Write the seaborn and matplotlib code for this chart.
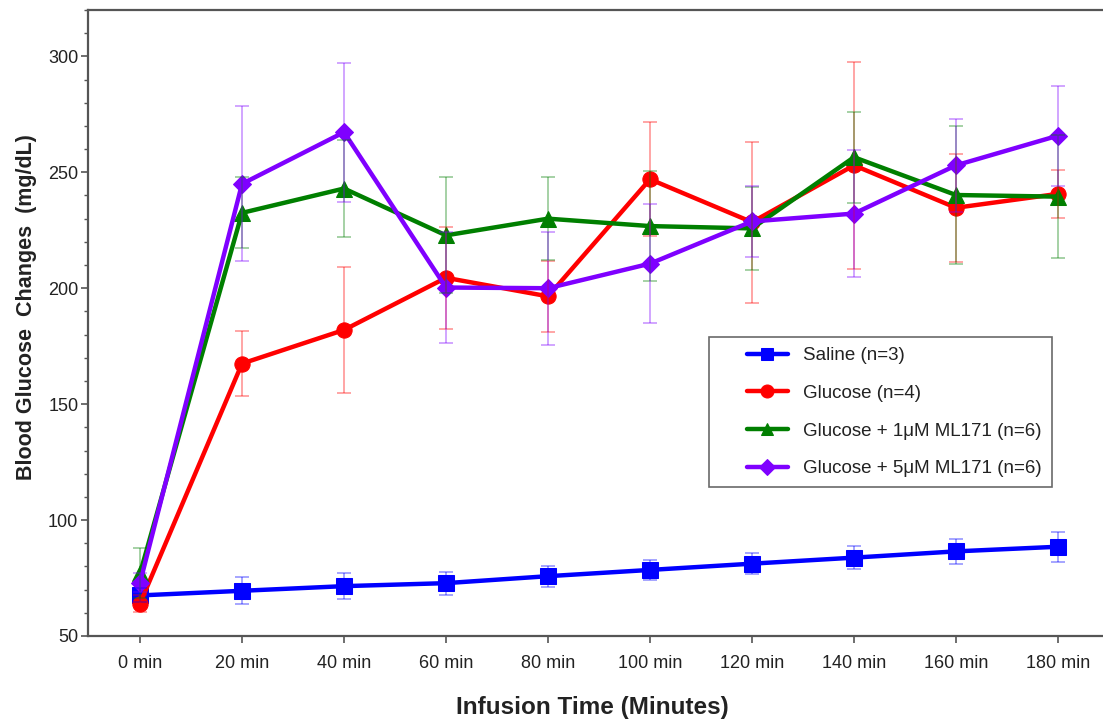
import numpy as np
import pandas as pd
import matplotlib
matplotlib.use("Agg")
import matplotlib.pyplot as plt
import seaborn as sns
from matplotlib.ticker import MultipleLocator
from matplotlib.legend_handler import HandlerLine2D
from matplotlib.lines import Line2D

# Infusion time points (minutes) and their tick labels
times = [0, 20, 40, 60, 80, 100, 120, 140, 160, 180]
time_labels = [f"{t} min" for t in times]

groups = ["Saline (n=3)", "Glucose (n=4)",
          "Glucose + 1μM ML171 (n=6)", "Glucose + 5μM ML171 (n=6)"]

# Mean blood glucose (mg/dL) per group
saline_mean = [67.5, 69.5, 71.5, 72.8, 75.8, 78.5, 81.2, 83.8, 86.5, 88.5]
glucose_mean = [64.0, 167.5, 182.0, 204.5, 196.5, 247.0, 228.5, 253.0, 234.7, 240.7]
ml1_mean = [77.0, 232.5, 243.0, 222.8, 230.0, 226.8, 225.8, 256.5, 240.2, 239.5]
ml5_mean = [73.0, 245.0, 267.3, 200.3, 200.0, 210.6, 228.8, 232.2, 253.0, 265.8]

# Error (± mg/dL) per group
saline_err = [3.0, 5.8, 5.5, 5.0, 4.5, 4.4, 4.5, 4.9, 5.5, 6.5]
glucose_err = [3.5, 14.2, 27.0, 22.0, 15.2, 24.5, 34.7, 44.5, 23.4, 10.5]
ml1_err = [10.8, 15.3, 20.8, 25.0, 18.0, 23.6, 18.0, 19.6, 29.6, 26.6]
ml5_err = [4.0, 33.4, 30.0, 24.0, 24.3, 25.8, 15.2, 27.3, 20.0, 21.6]

means = [saline_mean, glucose_mean, ml1_mean, ml5_mean]
errs = [saline_err, glucose_err, ml1_err, ml5_err]

colors = ["#0000FF", "#FF0000", "#007F00", "#7F00FF"]
marker_shapes = ["s", "o", "^", "D"]
marker_sizes = [11, 11, 11, 9]

df = pd.DataFrame({
    "time": np.tile(times, len(groups)),
    "glucose": np.concatenate(means),
    "group": np.repeat(groups, len(times)),
})

sns.set_style("ticks")
plt.rcParams["font.family"] = ["Liberation Sans", "DejaVu Sans"]

fig = plt.figure(figsize=(11.03, 7.19), dpi=100)
ax = fig.add_axes([88 / 1103, 83 / 719, 1022 / 1103, 626 / 719])

for i, g in enumerate(groups):
    sub = df[df["group"] == g]
    sns.lineplot(data=sub, x="time", y="glucose", ax=ax, color=colors[i],
                 marker=marker_shapes[i], markersize=marker_sizes[i],
                 markeredgecolor=colors[i], linewidth=3.2, label=g,
                 zorder=3 + i)
    ax.errorbar(times, means[i], yerr=errs[i], fmt="none", ecolor=colors[i],
                elinewidth=1.1, capsize=5, capthick=1.1, alpha=0.45,
                zorder=8)

ax.set_xlim(-10.2, 190.2)
ax.set_ylim(50, 320)
ax.set_xticks(times)
ax.set_xticklabels(time_labels)
ax.yaxis.set_major_locator(MultipleLocator(50))
ax.yaxis.set_minor_locator(MultipleLocator(10))
ax.set_yticks([50, 100, 150, 200, 250, 300])

edge = "#555555"
for side in ["left", "bottom", "top", "right"]:
    ax.spines[side].set_color(edge)
    ax.spines[side].set_linewidth(1.6)

ax.tick_params(axis="both", which="major", direction="out", length=5,
               width=1.2, color=edge, labelsize=13, labelcolor="#222222")
ax.tick_params(axis="x", which="major", pad=9)
ax.tick_params(axis="y", which="major", pad=2)
ax.tick_params(axis="y", which="minor", direction="out", length=3,
               width=1.0, color=edge)

ax.set_xlabel("Infusion Time (Minutes)", fontsize=17.5, fontweight="bold",
              color="#222222")
ax.set_ylabel("Blood Glucose  Changes  (mg/dL)", fontsize=15.5,
              fontweight="bold", color="#222222")
ax.xaxis.set_label_coords(0.4937, -0.096)
ax.yaxis.set_label_coords(-0.05, 0.5256)

handles, labels = ax.get_legend_handles_labels()
handler_map = {Line2D: HandlerLine2D(xpad=1.48)}
leg = ax.legend(handles, labels, loc="upper left",
                bbox_to_anchor=(0.6076, 0.4776), fontsize=13.5,
                frameon=True, fancybox=False, edgecolor="#444444",
                handlelength=3.66, borderpad=0.55, labelspacing=1.09,
                handletextpad=0.8, borderaxespad=0, handler_map=handler_map,
                markerscale=0.85)
leg.get_frame().set_linewidth(1.2)
for t in leg.get_texts():
    t.set_color("#222222")

fig.savefig("out.png", dpi=100)
